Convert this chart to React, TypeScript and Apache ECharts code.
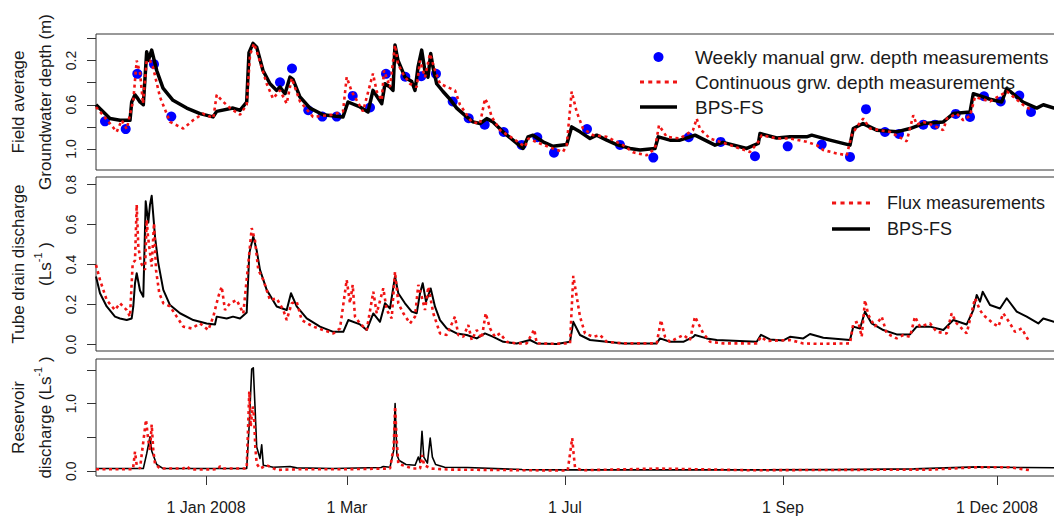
import { useEffect, useRef } from 'react';
import * as echarts from 'echarts';

// x is the record index of the (gappy) logger series; calendar ticks sit at these indices
const xTickPos = [110, 251, 469, 687, 901];
const xTickLabels = ['1 Jan 2008', '1 Mar', '1 Jul', '1 Sep', '1 Dec 2008'];
const X_MAX = 970;

// Field average groundwater depth (m)
const gwWeekly: [number, number][] = [
    [9, 0.75], [29.7, 0.82], [41.3, 0.32], [58, 0.233], [75.3, 0.707], [184, 0.396], [196, 0.272],
    [212.3, 0.65], [226.3, 0.707], [240.7, 0.707], [256.7, 0.52], [274, 0.625], [290, 0.32],
    [309.3, 0.347], [325.3, 0.342], [340, 0.32], [356.7, 0.57], [372.7, 0.722], [388.7, 0.78],
    [407.7, 0.846], [425.7, 0.963], [441.3, 0.894], [458, 1.033], [491, 0.82], [524, 0.963],
    [557.3, 1.078], [592.7, 0.894], [624.7, 0.936], [659, 1.066], [691.7, 0.976], [725.7, 0.96],
    [754, 1.072], [770, 0.64], [789, 0.846], [803, 0.864], [827.3, 0.78], [839, 0.78],
    [859.7, 0.683], [874, 0.71], [888, 0.523], [904.7, 0.57], [923.3, 0.516], [935, 0.665],
];

const gwContinuous: [number, number][] = [
    [0, 0.62], [14, 0.77], [20.7, 0.845], [25.7, 0.74], [30.7, 0.82], [35.7, 0.62], [37.3, 0.56],
    [40.7, 0.2], [44, 0.31], [47, 0.59], [50.7, 0.2], [54, 0.2], [57, 0.26], [64, 0.53], [74, 0.755],
    [87.3, 0.815], [97, 0.74], [107, 0.68], [117.3, 0.72], [120.7, 0.51], [125.7, 0.56], [134, 0.63],
    [144, 0.69], [150.7, 0.6], [154, 0.15], [158, 0.045], [162.3, 0.16], [170.7, 0.41], [177, 0.545],
    [184, 0.47], [190.7, 0.59], [195.7, 0.36], [204, 0.57], [217, 0.71], [237, 0.69], [247, 0.66],
    [250.7, 0.35], [255.7, 0.48], [267, 0.66], [277, 0.317], [280.7, 0.48], [285.7, 0.56], [288, 0.29],
    [294, 0.44], [299, 0.06], [302, 0.23], [307, 0.32], [314, 0.41], [320.7, 0.44], [324, 0.2],
    [329, 0.35], [334, 0.14], [339, 0.29], [344, 0.41], [359, 0.47], [364, 0.6], [375.7, 0.755],
    [384, 0.77], [389, 0.545], [392.3, 0.6], [395.7, 0.71], [404, 0.83], [417, 0.905], [429, 0.98],
    [432.3, 0.905], [444, 0.95], [457, 0.995], [467, 1.027], [470.7, 0.965], [475.7, 0.48],
    [480.7, 0.665], [487, 0.815], [497, 0.875], [510.7, 0.89], [527, 0.965], [537, 1.03],
    [550.7, 1.057], [559, 0.995], [563, 0.785], [570.7, 0.89], [584, 0.905], [597, 0.83],
    [600.7, 0.725], [604, 0.82], [614, 0.905], [634, 0.965], [654, 1.027], [662.3, 0.935],
    [665.7, 0.875], [680.7, 0.905], [694, 0.905], [710.7, 0.935], [720.7, 0.965], [727.3, 1.01],
    [740.7, 1.04], [750.7, 1.057], [755.7, 0.875], [760.7, 0.8], [767.3, 0.725], [774, 0.815],
    [794, 0.845], [810.7, 0.93], [817.3, 0.695], [820.7, 0.78], [827.3, 0.755], [835.7, 0.78],
    [847.3, 0.83], [850.7, 0.725], [860.7, 0.68], [867.3, 0.74], [874, 0.7], [879, 0.53],
    [894, 0.57], [911, 0.48], [927, 0.6], [934, 0.64],
];

const gwModel: [number, number][] = [
    [0, 0.6], [14, 0.725], [24, 0.74], [34, 0.74], [35.7, 0.575], [39, 0.51], [40.7, 0.53], [44, 0.575],
    [47.3, 0.6], [50.7, 0.12], [52.3, 0.2], [55.7, 0.106], [60.7, 0.29], [67, 0.45], [77, 0.56],
    [90.7, 0.63], [104, 0.68], [117, 0.71], [120.7, 0.66], [137, 0.63], [144, 0.65], [150.7, 0.575],
    [153, 0.13], [157, 0.045], [160.7, 0.08], [167, 0.29], [174, 0.41], [180.7, 0.47], [184, 0.44],
    [189, 0.5], [194, 0.35], [197, 0.37], [204, 0.53], [214, 0.63], [227, 0.69], [247, 0.71],
    [252, 0.575], [264, 0.62], [272, 0.665], [277, 0.47], [280.7, 0.52], [285.7, 0.59], [289, 0.41],
    [294, 0.44], [297, 0.47], [299, 0.06], [302, 0.2], [309, 0.35], [315.7, 0.39], [319, 0.47],
    [322, 0.26], [325.7, 0.106], [329, 0.3], [332, 0.35], [334.7, 0.136], [337, 0.26], [340.7, 0.41],
    [347, 0.48], [354, 0.55], [360.7, 0.63], [370.7, 0.71], [377, 0.755], [384, 0.77], [390.7, 0.725],
    [397, 0.755], [407, 0.845], [417, 0.92], [427, 0.995], [432, 0.89], [437, 0.875], [447, 0.935],
    [457, 0.975], [470.7, 0.96], [475.7, 0.8], [484, 0.845], [494, 0.905], [500.7, 0.875],
    [510.7, 0.92], [520.7, 0.96], [534, 0.995], [544, 1.01], [559, 0.995], [562.3, 0.89], [574, 0.92],
    [584, 0.92], [594, 0.89], [599, 0.875], [619, 0.965], [627, 0.94], [650.7, 0.995], [662.3, 0.95],
    [664, 0.86], [680.7, 0.9], [694, 0.89], [710.7, 0.89], [715.7, 0.875], [734, 0.92], [754, 0.965],
    [757.3, 0.815], [767, 0.77], [780.7, 0.83], [800.7, 0.845], [814, 0.815], [827.3, 0.77],
    [847.3, 0.755], [857.3, 0.68], [874, 0.665], [877.3, 0.5], [894, 0.55], [905.7, 0.575],
    [910.7, 0.453], [927, 0.575], [940.7, 0.63], [947.3, 0.6], [958, 0.63], [970, 0.63],
];

// Tube drain discharge (L/s)
const drainFlux: [number, number][] = [
    [0, 0.398], [4, 0.323], [10.7, 0.222], [19, 0.172], [24, 0.206], [30.7, 0.172], [34, 0.139],
    [36.7, 0.407], [39, 0.42], [40.7, 0.7], [42.3, 0.49], [45, 0.407], [49, 0.373], [50.7, 0.624],
    [52, 0.54], [55.7, 0.39], [58, 0.607], [60, 0.373], [63.3, 0.256], [67.3, 0.206], [74, 0.19],
    [80.7, 0.139], [87.3, 0.089], [95.7, 0.08], [104, 0.105], [112.3, 0.072], [117.3, 0.139],
    [122.3, 0.239], [125.7, 0.289], [129, 0.172], [134, 0.206], [140.7, 0.222], [147.3, 0.155],
    [153.3, 0.457], [155.7, 0.582], [159, 0.52], [162.3, 0.373], [167.3, 0.323], [174, 0.222],
    [180.7, 0.23], [187.3, 0.172], [190.7, 0.122], [195.7, 0.206], [200.7, 0.214], [205.7, 0.122],
    [217.3, 0.089], [237.3, 0.055], [244, 0.08], [250.7, 0.323], [254, 0.206], [256.7, 0.298],
    [259, 0.139], [264, 0.105], [270.7, 0.072], [277.3, 0.264], [280.7, 0.156], [287.3, 0.281],
    [290.7, 0.172], [295.7, 0.13], [299, 0.364], [302.3, 0.206], [307.3, 0.156], [314, 0.105],
    [319, 0.139], [322.3, 0.298], [325.7, 0.239], [329, 0.172], [332.3, 0.289], [337.3, 0.156],
    [344, 0.055], [350.7, 0.047], [359, 0.139], [362.3, 0.047], [367.3, 0.038], [372.3, 0.097],
    [375.7, 0.022], [380.7, 0.072], [385.7, 0.03], [389.7, 0.156], [394, 0.08], [399, 0.038],
    [404, 0.055], [410.7, 0.013], [420.7, 0.005], [430.7, 0.005], [438.3, 0.075], [440.7, 0.005],
    [457.3, 0.003], [474, 0.005], [477.3, 0.343], [480.7, 0.239], [484, 0.139], [489, 0.055],
    [497.3, 0.038], [504, 0.047], [510.7, 0.013], [527.3, 0.005], [560.7, 0.005], [565, 0.122],
    [569, 0.038], [574, 0.013], [587.3, 0.047], [594, 0.022], [599, 0.139], [602.3, 0.105],
    [607.3, 0.055], [614, 0.013], [627.3, 0.005], [660.7, 0.005], [665, 0.038], [670.7, 0.017],
    [694, 0.022], [707.3, 0.005], [720.7, 0.003], [754, 0.005], [757.3, 0.105], [762.3, 0.114],
    [765.7, 0.038], [769, 0.222], [772.3, 0.147], [779, 0.089], [785.7, 0.139], [790.7, 0.055],
    [800.7, 0.03], [807.3, 0.047], [814, 0.038], [819, 0.139], [824, 0.089], [834, 0.105],
    [840.7, 0.063], [850.7, 0.055], [855.7, 0.156], [860.7, 0.105], [870.7, 0.055], [879, 0.231],
    [884, 0.172], [887.3, 0.147], [897.3, 0.105], [902.3, 0.089], [907.3, 0.156], [914, 0.105],
    [919, 0.063], [925.7, 0.08], [932.3, 0.022],
];

const drainModel: [number, number][] = [
    [0, 0.34], [4, 0.256], [10.7, 0.19], [19, 0.139], [24, 0.13], [30.7, 0.122], [35.7, 0.13],
    [37.3, 0.19], [39, 0.306], [40.7, 0.356], [44, 0.27], [47.3, 0.239], [49.7, 0.716], [52.3, 0.61],
    [54, 0.7], [55.7, 0.744], [59, 0.54], [62.3, 0.407], [67.3, 0.273], [74, 0.197], [84, 0.156],
    [97.3, 0.122], [110.7, 0.105], [119, 0.1], [120.7, 0.139], [130.7, 0.13], [137, 0.139], [144, 0.13],
    [150.7, 0.16], [153.3, 0.457], [157.3, 0.54], [160.7, 0.47], [164, 0.373], [170.7, 0.273],
    [180.7, 0.19], [190.7, 0.172], [195, 0.256], [200.7, 0.19], [210.7, 0.13], [224, 0.089],
    [237.3, 0.063], [247.3, 0.063], [252.3, 0.122], [264, 0.1], [270.7, 0.072], [277.3, 0.155],
    [284, 0.113], [289, 0.206], [294, 0.18], [299, 0.34], [302.3, 0.256], [309, 0.206], [315.7, 0.164],
    [320.7, 0.156], [324, 0.256], [326.7, 0.306], [330, 0.214], [334.7, 0.28], [339, 0.189],
    [344, 0.122], [350.7, 0.08], [360.7, 0.055], [370.7, 0.047], [380.7, 0.03], [389, 0.055],
    [397.3, 0.038], [407.3, 0.013], [420.7, 0.005], [434, 0.022], [440.7, 0.005], [460.7, 0.002],
    [474, 0.013], [477.3, 0.113], [484, 0.047], [494, 0.022], [510.7, 0.013], [527.3, 0.005],
    [560.7, 0.005], [564, 0.03], [574, 0.013], [587.3, 0.013], [597.3, 0.038], [599, 0.047],
    [610.7, 0.03], [620.7, 0.022], [660.7, 0.013], [665, 0.048], [674, 0.025], [687.3, 0.02],
    [694, 0.038], [707.3, 0.03], [714, 0.052], [727.3, 0.033], [754, 0.022], [757.3, 0.089],
    [764, 0.08], [769, 0.164], [775.7, 0.105], [787.3, 0.072], [800.7, 0.05], [814, 0.05],
    [820.7, 0.089], [834, 0.089], [847.3, 0.072], [857.3, 0.122], [870.7, 0.1], [877.3, 0.172],
    [880.7, 0.247], [884, 0.214], [886.7, 0.264], [894, 0.197], [904, 0.18], [910.7, 0.231],
    [920.7, 0.164], [930.7, 0.139], [942.3, 0.105], [947.3, 0.13], [958, 0.113], [970, 0.11],
];

// Reservoir discharge (L/s)
const resFlux: [number, number][] = [
    [0, 0.03], [37, 0.03], [39, 0.29], [40.7, 0.09], [44, 0.04], [50, 0.76], [52.3, 0.46], [54, 0.31],
    [55.7, 0.69], [57.3, 0.31], [59, 0.11], [64, 0.04], [87.3, 0.04], [90.7, 0.075], [94, 0.03],
    [104, 0.025], [122.3, 0.03], [124, 0.075], [127.3, 0.04], [150.7, 0.04], [153.3, 1.18],
    [154.7, 0.66], [156.7, 0.96], [158, 0.81], [159.3, 0.36], [160.7, 0.11], [164, 0.04],
    [170.7, 0.09], [180.7, 0.02], [204, 0.03], [247.3, 0.03], [294, 0.04], [297.7, 0.36],
    [299.1, 0.96], [300.5, 0.51], [302.3, 0.11], [316.9, 0.04], [324.1, 0.04], [326, 0.24],
    [328.2, 0.09], [335, 0.04], [353.3, 0.025], [471.7, 0.01], [476.2, 0.49], [477.6, 0.26],
    [479, 0.06], [485.3, 0.015], [562.8, 0.04], [653.8, 0.015], [836, 0.025], [881.5, 0.06],
    [913.4, 0.06], [934, 0.015],
];

const resModel: [number, number][] = [
    [0, 0.04], [47.3, 0.04], [50.7, 0.26], [54, 0.51], [55.7, 0.3], [60.7, 0.1], [67.3, 0.04],
    [150.7, 0.04], [153.3, 0.71], [155.7, 1.51], [157.3, 1.53], [159, 0.96], [160.7, 0.36],
    [164, 0.19], [165.7, 0.39], [167.3, 0.09], [177.3, 0.06], [194, 0.07], [200.7, 0.05],
    [237.3, 0.04], [285, 0.055], [287.3, 0.07], [294, 0.06], [297.7, 0.31], [299.1, 1.0],
    [300.9, 0.24], [303.2, 0.16], [310, 0.1], [319.1, 0.09], [322.3, 0.21], [324.1, 0.13],
    [326, 0.59], [327.8, 0.21], [331.4, 0.12], [334.2, 0.49], [336.4, 0.21], [339.6, 0.1],
    [348.7, 0.06], [371.5, 0.055], [426.1, 0.025], [471.7, 0.02], [562.8, 0.02], [653.8, 0.02],
    [745, 0.025], [817.8, 0.035], [881.5, 0.065], [927, 0.055], [970, 0.05],
];

const FONT = '"Liberation Sans", Arial, sans-serif';
const INK = '#1a1a1a';
const BOX = '#333333';
const RED = '#f01414';
const BLUE = '#0000ff';

const DOTTED_ICON = 'path://M0,0h4v3h-4z M8.25,0h4v3h-4z M16.5,0h4v3h-4z M24.75,0h4v3h-4z M33,0h4v3h-4z';
const SOLID_ICON = 'path://M0,0h37v3.4h-37z';

function makeYAxis(gridIndex: number, name: string, min: number, max: number,
    ticks: number[], labels: number[], inverse = false) {
    return {
        type: 'value',
        gridIndex,
        min,
        max,
        inverse,
        name,
        nameLocation: 'middle',
        nameGap: 37,
        nameRotate: 90,
        nameMoveOverlap: false,
        nameTextStyle: {
            fontSize: 17,
            fontFamily: FONT,
            color: INK,
            lineHeight: 27,
            rich: {
                sup: { fontSize: 11, lineHeight: 16, verticalAlign: 'top', fontFamily: FONT, color: INK },
            },
        },
        axisLine: { show: false, onZero: false },
        splitLine: { show: false },
        axisTick: { show: true, inside: false, length: 9, lineStyle: { color: BOX }, customValues: ticks },
        axisLabel: {
            show: true,
            rotate: 90,
            margin: 18,
            fontSize: 14,
            fontFamily: FONT,
            color: INK,
            customValues: labels,
            formatter: (v: number) => v.toFixed(1),
        },
    };
}

function makeXAxis(gridIndex: number, showLabels: boolean) {
    return {
        type: 'value',
        gridIndex,
        min: 0,
        max: X_MAX,
        position: 'bottom',
        axisLine: { show: false, onZero: false },
        splitLine: { show: false },
        axisTick: {
            show: showLabels, inside: false, length: 9,
            lineStyle: { color: BOX }, customValues: xTickPos,
        },
        axisLabel: {
            show: showLabels,
            margin: 23,
            fontSize: 16,
            fontFamily: FONT,
            color: INK,
            customValues: xTickPos,
            formatter: (v: number) => {
                const i = xTickPos.indexOf(v);
                return i >= 0 ? xTickLabels[i] : '';
            },
        },
    };
}

const legendText = (size: number, padLeft: number) => ({
    fontSize: size,
    fontFamily: FONT,
    color: INK,
    lineHeight: 20,
    padding: [0, 0, 0, padLeft],
});

function buildOption(): echarts.EChartsOption {
    const gridBase = { left: 96, right: 4, show: true, borderColor: BOX, borderWidth: 1, backgroundColor: 'transparent', outerBoundsMode: 'none' };
    return {
        animation: false,
        backgroundColor: '#ffffff',
        grid: [
            { ...gridBase, top: 34, height: 136 },
            { ...gridBase, top: 177, height: 174 },
            { ...gridBase, top: 359, height: 117 },
        ] as any,
        xAxis: [makeXAxis(0, false), makeXAxis(1, false), makeXAxis(2, true)] as any,
        yAxis: [
            makeYAxis(0, 'Field average\nGroundwater depth (m)', -0.04, 1.19,
                [0, 0.2, 0.4, 0.6, 0.8, 1.0], [0.2, 0.6, 1.0], true),
            makeYAxis(1, 'Tube drain discharge\n(Ls{sup|-1} )', -0.033, 0.838,
                [0, 0.2, 0.4, 0.6, 0.8], [0, 0.2, 0.4, 0.6, 0.8]),
            makeYAxis(2, 'Reservoir\ndischarge (Ls{sup|-1} )', -0.07, 1.66,
                [0, 0.5, 1.0, 1.5], [0, 1.0]),
        ] as any,
        legend: [
            {
                orient: 'vertical',
                left: 640,
                top: 47,
                padding: 0,
                itemWidth: 37,
                itemHeight: 10,
                itemGap: 5,
                selectedMode: false,
                textStyle: legendText(19, 13),
                data: [
                    { name: 'Weekly manual grw. depth measurements', icon: 'circle', itemStyle: { color: BLUE, borderWidth: 0, opacity: 1 } },
                    { name: 'Continuous grw. depth measurements', icon: DOTTED_ICON, itemStyle: { color: RED, borderWidth: 0 } },
                    { name: 'BPS-FS', icon: SOLID_ICON, itemStyle: { color: '#000000', borderWidth: 0 } },
                ],
            },
            {
                orient: 'vertical',
                left: 832,
                top: 193,
                padding: 0,
                itemWidth: 38,
                itemHeight: 10,
                itemGap: 6,
                selectedMode: false,
                textStyle: legendText(18, 12),
                data: [
                    { name: 'Flux measurements', icon: DOTTED_ICON, itemStyle: { color: RED, borderWidth: 0 } },
                    { name: 'BPS-FS', icon: SOLID_ICON, itemStyle: { color: '#000000', borderWidth: 0 } },
                ],
            },
        ] as any,
        series: [
            {
                type: 'line', name: 'BPS-FS', xAxisIndex: 0, yAxisIndex: 0, data: gwModel,
                symbol: 'none', silent: true, color: '#000000',
                lineStyle: { color: '#000000', width: 3.5, join: 'round' },
            },
            {
                type: 'line', name: 'Continuous grw. depth measurements', xAxisIndex: 0, yAxisIndex: 0,
                data: gwContinuous, symbol: 'none', silent: true, color: RED,
                lineStyle: { color: RED, width: 2.6, type: [3, 3.5] },
            },
            {
                type: 'scatter', name: 'Weekly manual grw. depth measurements', xAxisIndex: 0, yAxisIndex: 0,
                data: gwWeekly, symbol: 'circle', symbolSize: 10, silent: true,
                itemStyle: { color: BLUE, opacity: 1 },
            },
            {
                type: 'line', name: 'BPS-FS', xAxisIndex: 1, yAxisIndex: 1, data: drainModel,
                symbol: 'none', silent: true, color: '#000000',
                lineStyle: { color: '#000000', width: 2, join: 'round' },
            },
            {
                type: 'line', name: 'Flux measurements', xAxisIndex: 1, yAxisIndex: 1, data: drainFlux,
                symbol: 'none', silent: true, color: RED,
                lineStyle: { color: RED, width: 2.6, type: [3, 3.5] },
            },
            {
                type: 'line', name: 'BPS-FS', xAxisIndex: 2, yAxisIndex: 2, data: resModel,
                symbol: 'none', silent: true, color: '#000000',
                lineStyle: { color: '#000000', width: 1.6, join: 'round' },
            },
            {
                type: 'line', name: 'Flux measurements', xAxisIndex: 2, yAxisIndex: 2, data: resFlux,
                symbol: 'none', silent: true, color: RED,
                lineStyle: { color: RED, width: 2.6, type: [3, 3.5] },
            },
        ] as any,
    };
}

export default function App() {
    const chartRef = useRef<HTMLDivElement>(null);

    useEffect(() => {
        if (!chartRef.current) return;
        const chart = echarts.init(chartRef.current, undefined, { renderer: 'svg' });
        chart.setOption(buildOption());
        return () => {
            chart.dispose();
        };
    }, []);

    return (
        <div style={{ position: 'fixed', left: 0, top: 0, width: 1054, height: 518, overflow: 'hidden', background: '#ffffff' }}>
            <div ref={chartRef} style={{ width: 1070, height: 518 }} />
        </div>
    );
}
